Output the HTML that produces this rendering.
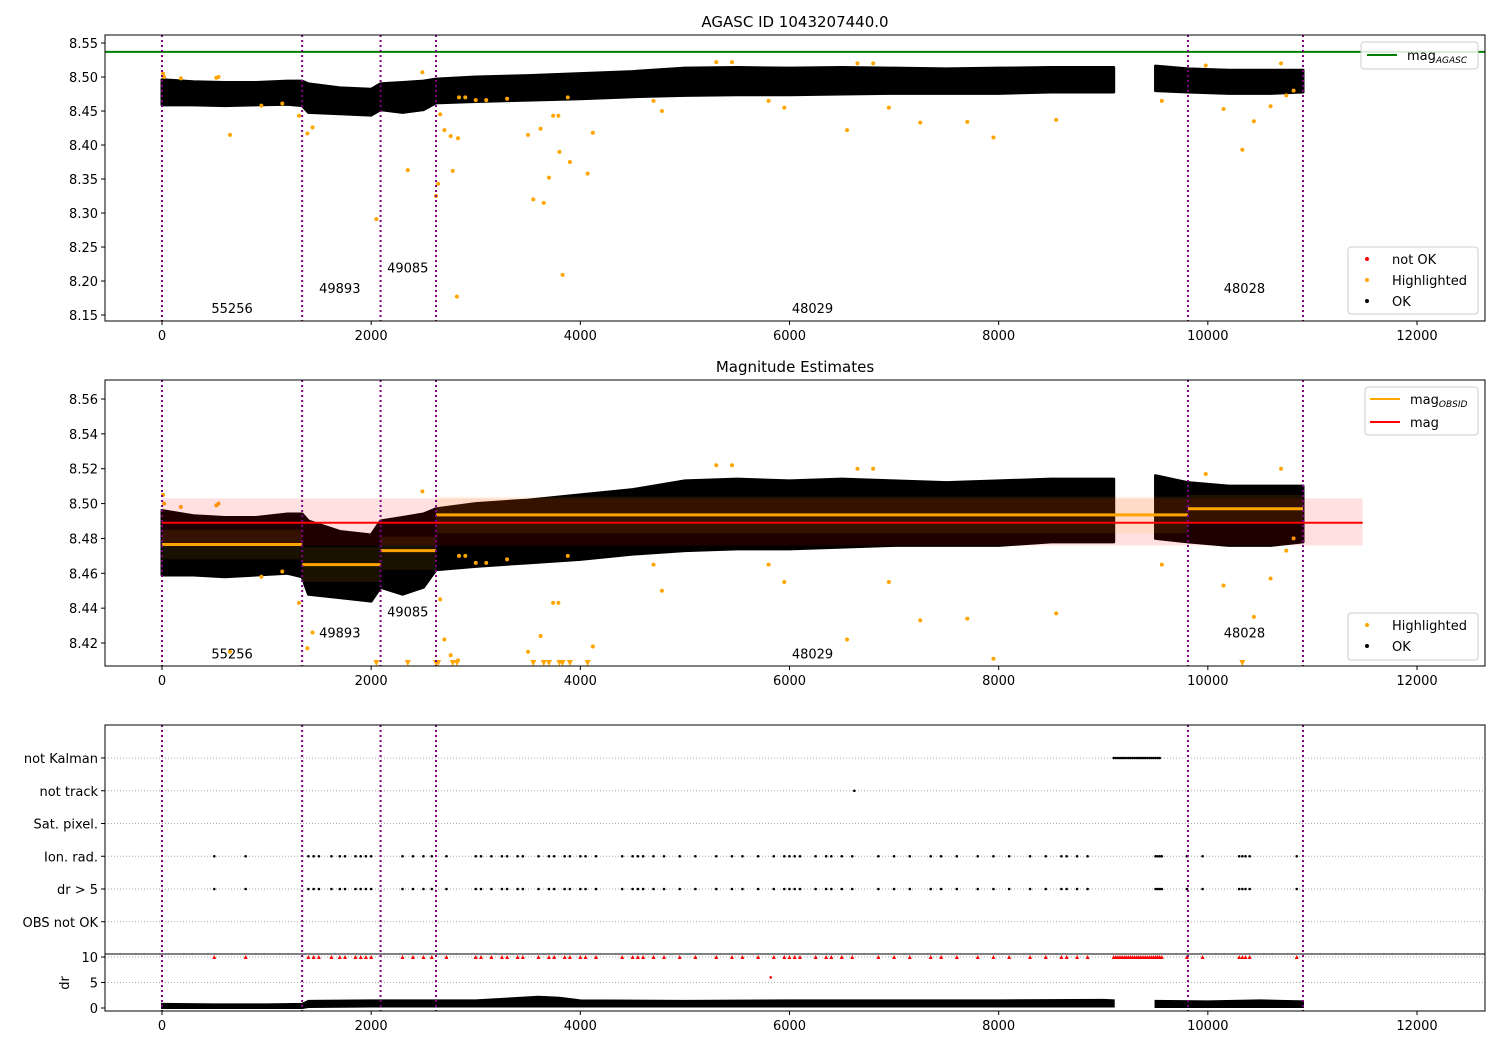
<!DOCTYPE html>
<html><head><meta charset="utf-8"><style>
body{margin:0;background:#fff}
svg{display:block;font-family:"DejaVu Sans","Liberation Sans",sans-serif}
text{fill:#000}
</style></head><body>
<svg id="c" width="1500" height="1050" viewBox="0 0 1500 1050" xmlns="http://www.w3.org/2000/svg"></svg>
<script>
// ---- data ----
const obsBounds = [0, 1340, 2090, 2620, 9810, 10910];
const obsLabels = ["55256", "49893", "49085", "48029", "48028"];
const obsLabelX = [670, 1700, 2350, 6220, 10350];
const obsLabelMag1 = [8.16, 8.19, 8.22, 8.16, 8.19];
const obsLabelMag2 = [8.414, 8.426, 8.438, 8.414, 8.426];
const cloudX  = [0,300,600,900,1200,1340,1400,1700,2000,2090,2300,2500,2620,3000,3500,4000,4500,5000,5500,6000,6500,7000,7500,8000,8500,9100,null,9500,9810,10200,10600,10910];
const cloudHi = [8.496,8.493,8.492,8.492,8.494,8.494,8.490,8.484,8.482,8.490,8.492,8.494,8.497,8.500,8.502,8.505,8.508,8.513,8.514,8.513,8.514,8.513,8.512,8.513,8.514,8.514,null,8.516,8.512,8.510,8.510,8.510];
const cloudLo = [8.459,8.459,8.458,8.459,8.460,8.458,8.448,8.446,8.444,8.452,8.448,8.452,8.462,8.464,8.466,8.468,8.471,8.473,8.474,8.474,8.475,8.476,8.476,8.476,8.478,8.478,null,8.480,8.478,8.476,8.476,8.478];
const hiX = [10,20,180,520,540,650,950,1150,1310,1390,1440,2050,2350,2490,2620,2640,2660,2700,2760,2780,2820,2830,2840,2900,3000,3100,3300,3500,3550,3620,3650,3700,3740,3790,3800,3830,3880,3900,4070,4120,4700,4780,5300,5450,5800,5950,6550,6650,6800,6950,7250,7700,7950,8550,9560,9980,10150,10330,10440,10600,10700,10750,10820];
const hiMag = [8.505,8.500,8.498,8.499,8.500,8.415,8.458,8.461,8.443,8.417,8.426,8.291,8.363,8.507,8.325,8.343,8.445,8.422,8.413,8.362,8.177,8.410,8.470,8.470,8.466,8.466,8.468,8.415,8.320,8.424,8.315,8.352,8.443,8.443,8.390,8.209,8.470,8.375,8.358,8.418,8.465,8.450,8.522,8.522,8.465,8.455,8.422,8.520,8.520,8.455,8.433,8.434,8.411,8.437,8.465,8.517,8.453,8.393,8.435,8.457,8.520,8.473,8.480];
const magAgasc = 8.537;
const magMean = 8.489, magLo = 8.476, magHi = 8.503;
const obsMean = [8.4765, 8.465, 8.473, 8.4935, 8.497];
const obsLo = [8.468, 8.455, 8.462, 8.483, 8.489];
const obsHi = [8.485, 8.475, 8.481, 8.504, 8.505];
const flagX = [500,800,1400,1450,1500,1620,1700,1750,1850,1900,1950,2000,2300,2400,2500,2580,2720,3000,3050,3150,3250,3300,3400,3450,3600,3700,3750,3850,3900,4000,4050,4150,4400,4500,4550,4600,4700,4800,4950,5100,5300,5450,5550,5700,5850,5950,6000,6050,6100,6250,6350,6400,6500,6600,6850,7000,7150,7350,7450,7600,7800,7950,8100,8300,8450,8600,8650,8750,8850,9500,9520,9540,9560,9800,9950,10300,10330,10360,10400,10850];
const kalmanX = [9100,9120,9140,9160,9180,9200,9220,9240,9260,9280,9300,9320,9340,9360,9380,9400,9420,9440,9460,9480,9500,9520,9540];
const trackX = [6620];
const rowNames = ["not Kalman","not track","Sat. pixel.","Ion. rad.","dr > 5","OBS not OK"];
const drX  = [0,500,1000,1340,1400,2000,2600,3000,3600,3800,4000,5000,6000,7000,8000,9000,9100,null,9500,10000,10500,10910];
const drHi = [0.8,0.7,0.7,0.8,1.4,1.5,1.5,1.5,2.2,2.0,1.5,1.4,1.5,1.5,1.5,1.6,1.5,null,1.4,1.3,1.5,1.3];
const drLo = [0,0,0,0,0.2,0.3,0.3,0.3,0.3,0.3,0.3,0.3,0.3,0.3,0.3,0.3,0.3,null,0.2,0.2,0.2,0.2];
const redExtraX = [5820], redExtraV = [6];
const xTicks = [0,2000,4000,6000,8000,10000,12000];
const y1Ticks = [8.15,8.20,8.25,8.30,8.35,8.40,8.45,8.50,8.55];
const y2Ticks = [8.42,8.44,8.46,8.48,8.50,8.52,8.54,8.56];
const drTicks = [0,5,10];

// ---- scales ----
const X = v => 162 + v * 0.104583;
const Y1 = v => 35 + (8.5618 - v) * 680;
const Y2 = v => 380 + (8.5709 - v) * 1742.9;
const YR = i => 758 + 32.75 * i;
const YD = v => 1008 - v * 5.1;
const L = 105, R = 1485;
const NS = "http://www.w3.org/2000/svg";
const svg = document.getElementById('c');
function el(tag, attrs, parent) {
  const e = document.createElementNS(NS, tag);
  for (const k in attrs) e.setAttribute(k, attrs[k]);
  (parent || svg).appendChild(e);
  return e;
}
function txt(s, x, y, anchor, size, parent) {
  const t = el('text', {x: x, y: y, 'text-anchor': anchor || 'middle', 'font-size': size || 13}, parent);
  t.textContent = s;
  return t;
}
function fmt(v, d) { return v.toFixed(d); }

function cloudPolys(g, Ys, color) {
  let segs = [], cur = [];
  for (let i = 0; i < cloudX.length; i++) {
    if (cloudX[i] === null) { segs.push(cur); cur = []; } else cur.push(i);
  }
  segs.push(cur);
  segs.forEach(s => {
    let pts = s.map(i => X(cloudX[i]) + ',' + Ys(cloudHi[i]));
    pts = pts.concat(s.slice().reverse().map(i => X(cloudX[i]) + ',' + Ys(cloudLo[i])));
    const p = el('polygon', {points: pts.join(' '), fill: color, stroke: color, 'stroke-width': 3, 'stroke-linejoin': 'round'}, g);
    
    
  });
}

function panelFrame(top, bottom, name) {
  const f = el('rect', {x: L, y: top, width: R - L, height: bottom - top, fill: 'none', stroke: '#000', 'stroke-width': 1});
  
  
  const g = el('g', {});
  
  
  xTicks.forEach(t => {
    el('line', {x1: X(t), x2: X(t), y1: bottom, y2: bottom + 4, stroke: '#000'}, g);
    const lb = txt(String(t), X(t), bottom + 19, 'middle', 13, g);
    
    
  });
}
function vlines(top, bottom, g) {
  obsBounds.forEach(b => {
    const l = el('line', {x1: X(b), x2: X(b), y1: top, y2: bottom, stroke: 'purple', 'stroke-width': 2, 'stroke-dasharray': '2,3'}, g);
    
    
  });
}
function yTicks(ticks, Ys, d, g) {
  ticks.forEach(t => {
    el('line', {x1: L - 4, x2: L, y1: Ys(t), y2: Ys(t), stroke: '#000'}, g);
    const lb = txt(fmt(t, d), L - 7, Ys(t) + 5, 'end', 13, g);
    
    
  });
}
function legendBox(x, y, w, h) {
  const r = el('rect', {x: x, y: y, width: w, height: h, rx: 3, fill: '#fff', 'fill-opacity': 0.85, stroke: '#ccc'});
  
  
}
function legendDot(x, y, color, label) {
  const g = el('g', {});
  
  
  el('circle', {cx: x, cy: y, r: 2, fill: color}, g);
  txt(label, x + 25, y + 5, 'start', 13, g);
}
function legendLine(x, y, color, label, sub) {
  const g = el('g', {});
  
  
  el('line', {x1: x, x2: x + 30, y1: y, y2: y, stroke: color, 'stroke-width': 2}, g);
  const t = txt(label, x + 40, y + 5, 'start', 13, g);
  if (sub) { const s = el('tspan', {'font-size': 9, 'font-style': 'italic', dy: 3}, t); s.textContent = sub; }
}

// ===== Panel 1 =====
{
  const t = txt('AGASC ID 1043207440.0', 795, 27, 'middle', 15);
  
  
  const g = el('g', {'clip-path': 'url(#cp1)'});
  
  
  const defs = el('defs', {});
  const c1 = el('clipPath', {id: 'cp1'}, defs); el('rect', {x: L, y: 35, width: R - L, height: 286}, c1);
  const c2 = el('clipPath', {id: 'cp2'}, defs); el('rect', {x: L, y: 380, width: R - L, height: 286}, c2);
  cloudPolys(g, Y1, '#000');
  hiX.forEach((x, i) => {
    const c = el('circle', {cx: X(x), cy: Y1(hiMag[i]), r: 2, fill: 'orange'}, g);
    
    
  });
  const ag = el('line', {x1: L, x2: R, y1: Y1(magAgasc), y2: Y1(magAgasc), stroke: 'green', 'stroke-width': 2}, g);
  
  
  vlines(35, 321, g);
  obsLabels.forEach((s, i) => {
    const lb = txt(s, X(obsLabelX[i]), Y1(obsLabelMag1[i]) + 5, 'middle', 13, g);
    
    
  });
  panelFrame(35, 321, 'panel1');
  const ya = el('g', {});  
  yTicks(y1Ticks, Y1, 2, ya);
  legendBox(1361, 42, 117, 27);
  legendLine(1367, 55, 'green', 'mag', 'AGASC');
  legendBox(1348, 247, 130, 67);
  legendDot(1367, 259, 'red', 'not OK');
  legendDot(1367, 280, 'orange', 'Highlighted');
  legendDot(1367, 301, '#000', 'OK');
}

// ===== Panel 2 =====
{
  const t = txt('Magnitude Estimates', 795, 372, 'middle', 15);
  
  
  const g = el('g', {'clip-path': 'url(#cp2)'});
  
  
  cloudPolys(g, Y2, '#000');
  hiX.forEach((x, i) => {
    const v = hiMag[i];
    if (v < 8.409) {
      const cx = X(x), cy = Y2(8.4085);
      const tri = el('polygon', {points: (cx-3)+','+(cy-3)+' '+(cx+3)+','+(cy-3)+' '+cx+','+(cy+3), fill: 'orange'}, g);
      
      
    } else {
      const c = el('circle', {cx: X(x), cy: Y2(v), r: 2, fill: 'orange'}, g);
      
      
    }
  });
  const band = el('rect', {x: X(0), y: Y2(magHi), width: X(11480) - X(0), height: Y2(magLo) - Y2(magHi), fill: 'red', 'fill-opacity': 0.12}, g);
  
  
  for (let i = 0; i < obsMean.length; i++) {
    const b = el('rect', {x: X(obsBounds[i]), y: Y2(obsHi[i]), width: X(obsBounds[i+1]) - X(obsBounds[i]), height: Y2(obsLo[i]) - Y2(obsHi[i]), fill: 'orange', 'fill-opacity': 0.1}, g);
    
    
  }
  const ml = el('line', {x1: X(0), x2: X(11480), y1: Y2(magMean), y2: Y2(magMean), stroke: 'red', 'stroke-width': 2}, g);
  
  
  for (let i = 0; i < obsMean.length; i++) {
    const l = el('line', {x1: X(obsBounds[i]), x2: X(obsBounds[i+1]), y1: Y2(obsMean[i]), y2: Y2(obsMean[i]), stroke: 'orange', 'stroke-width': 3}, g);
    
    
  }
  vlines(380, 666, g);
  obsLabels.forEach((s, i) => {
    const lb = txt(s, X(obsLabelX[i]), Y2(obsLabelMag2[i]) + 5, 'middle', 13, g);
    
    
  });
  panelFrame(380, 666, 'panel2');
  const ya = el('g', {});  
  yTicks(y2Ticks, Y2, 2, ya);
  legendBox(1365, 387, 113, 48);
  legendLine(1370, 399, 'orange', 'mag', 'OBSID');
  legendLine(1370, 422, 'red', 'mag', '');
  legendBox(1348, 613, 130, 47);
  legendDot(1367, 625, 'orange', 'Highlighted');
  legendDot(1367, 646, '#000', 'OK');
}

// ===== Panel 3 =====
{
  const g = el('g', {});
  
  
  rowNames.forEach((n, i) => {
    const gl = el('line', {x1: L, x2: R, y1: YR(i), y2: YR(i), stroke: '#aaa', 'stroke-width': 1, 'stroke-dasharray': '1,2'}, g);
    
    
    el('line', {x1: L - 4, x2: L, y1: YR(i), y2: YR(i), stroke: '#000'}, g);
    const lb = txt(n, L - 7, YR(i) + 5, 'end', 13, g);
    
    
  });
  drTicks.forEach(t => {
    if (t > 0) el('line', {x1: L, x2: R, y1: YD(t), y2: YD(t), stroke: '#aaa', 'stroke-dasharray': '1,2'}, g);
    el('line', {x1: L - 4, x2: L, y1: YD(t), y2: YD(t), stroke: '#000'}, g);
    const lb = txt(String(t), L - 7, YD(t) + 5, 'end', 13, g);
    
    
  });
  const sep = el('line', {x1: L, x2: R, y1: 954, y2: 954, stroke: '#000', 'stroke-width': 1}, g);
  
  
  const dl = el('text', {x: 0, y: 0, 'font-size': 13, 'text-anchor': 'middle', transform: 'translate(69,983) rotate(-90)'}, g);
  dl.textContent = 'dr';
  
  
  const dot = (x, y, nm) => {
    const c = el('circle', {cx: X(x), cy: y, r: 1.3, fill: '#000'}, g);
    
    
  };
  kalmanX.forEach(x => dot(x, YR(0), 'not-kalman-flag'));
  trackX.forEach(x => dot(x, YR(1), 'not-track-flag'));
  flagX.forEach(x => { dot(x, YR(3), 'ion-rad-flag'); dot(x, YR(4), 'dr-gt-5-flag'); });
  const redTri = (x, v) => {
    const cx = X(x), cy = YD(v);
    const p = el('polygon', {points: (cx-2)+','+(cy+2)+' '+(cx+2)+','+(cy+2)+' '+cx+','+(cy-2), fill: 'red'}, g);
    
    
  };
  flagX.forEach(x => redTri(x, 10));
  kalmanX.forEach(x => redTri(x, 10));
  redExtraX.forEach((x, i) => {
    const c = el('circle', {cx: X(x), cy: YD(redExtraV[i]), r: 1.3, fill: 'red'}, g);
    
    
  });
  let segs = [], cur = [];
  for (let i = 0; i < drX.length; i++) { if (drX[i] === null) { segs.push(cur); cur = []; } else cur.push(i); }
  segs.push(cur);
  segs.forEach(s => {
    let pts = s.map(i => X(drX[i]) + ',' + YD(drHi[i]));
    pts = pts.concat(s.slice().reverse().map(i => X(drX[i]) + ',' + YD(drLo[i])));
    const p = el('polygon', {points: pts.join(' '), fill: '#000', stroke: '#000', 'stroke-width': 2}, g);
    
    
  });
  vlines(725, 1011, g);
  panelFrame(725, 1011, 'panel3');
}
</script>
</body></html>
